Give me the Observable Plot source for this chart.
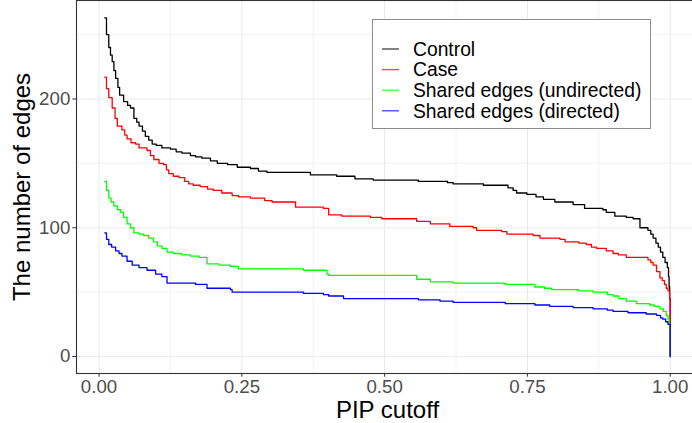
<!DOCTYPE html>
<html>
<head>
<meta charset="utf-8">
<script src="https://cdn.jsdelivr.net/npm/d3@7"></script>
<script src="https://cdn.jsdelivr.net/npm/@observablehq/plot@0.6"></script>
<style>
  html, body { margin: 0; padding: 0; background: #fff; }
  body { width: 692px; height: 423px; overflow: hidden; position: relative; font-family: "Liberation Sans", Arial, sans-serif; }
  #legend { position: absolute; left: 372px; top: 19px; }
</style>
</head>
<body>
<div id="chart"></div>
<svg id="legend" width="280" height="111"></svg>
<script>
// ---- data ----
const seriesNames = ["Control", "Case", "Shared edges (undirected)", "Shared edges (directed)"];
const seriesColors = ["#000000", "#FF0000", "#00FF00", "#0000FF"];

const controlPip = [0.010,0.013,0.017,0.020,0.023,0.026,0.029,0.033,0.036,0.043,0.050,0.055,0.061,0.066,0.070,0.076,0.081,0.087,0.093,0.100,0.110,0.125,0.135,0.145,0.160,0.169,0.180,0.195,0.207,0.225,0.242,0.265,0.279,0.294,0.370,0.416,0.448,0.480,0.559,0.610,0.620,0.673,0.716,0.725,0.731,0.749,0.765,0.778,0.798,0.830,0.850,0.882,0.888,0.903,0.923,0.935,0.947,0.961,0.966,0.970,0.975,0.979,0.983,0.987,0.991,0.995,0.997,0.998,0.999,1.000];
const controlEdges = [263,250,240,234,229,222,216,209,203,198,195,193,185,182,179,175,171,168,165,164,162,161,159,158,156,155,154,152,150,149,147,146,144,143,141,140,138,137,136,135,134,133,131,129,127,126,124,122,120,118,115,114,112,109,108,107,100,98,95,92,88,85,81,77,73,69,62,54,45,0];

const casePip = [0.010,0.013,0.017,0.023,0.028,0.032,0.040,0.045,0.049,0.056,0.064,0.070,0.084,0.090,0.096,0.105,0.113,0.118,0.122,0.130,0.140,0.150,0.157,0.165,0.177,0.190,0.200,0.215,0.233,0.244,0.265,0.290,0.303,0.344,0.393,0.402,0.425,0.475,0.495,0.556,0.580,0.614,0.655,0.661,0.705,0.714,0.760,0.772,0.807,0.816,0.840,0.853,0.862,0.871,0.888,0.900,0.909,0.923,0.961,0.966,0.970,0.976,0.982,0.986,0.990,0.993,0.996,0.999,1.000];
const caseEdges = [217,208,201,193,185,179,176,172,169,166,165,162,160,156,153,150,149,145,142,140,139,136,134,133,132,130,129,127,125,124,123,121,120,116,115,110,109,108,107,105,103,101,100,98,97,95,94,92,91,89,88,87,85,84,82,80,79,77,75,73,71,66,61,59,56,53,51,45,0];

const undirectedPip = [0.010,0.013,0.017,0.021,0.026,0.032,0.038,0.043,0.049,0.055,0.061,0.070,0.078,0.087,0.095,0.102,0.110,0.119,0.130,0.145,0.160,0.175,0.189,0.210,0.230,0.244,0.358,0.399,0.402,0.556,0.580,0.620,0.711,0.763,0.780,0.792,0.839,0.865,0.890,0.900,0.910,0.923,0.941,0.964,0.972,0.982,0.988,0.993,0.996,0.998,1.000];
const undirectedEdges = [136,129,123,120,117,114,112,108,103,100,96,95,94,92,89,86,84,81,80,79,78,77,72,71,70,68,67,64,63,60,58,57,56,54,53,52,51,50,48,47,45,43,41,40,39,37,35,32,29,25,0];

const directedPip = [0.010,0.013,0.017,0.022,0.029,0.035,0.040,0.049,0.058,0.070,0.084,0.099,0.110,0.119,0.169,0.189,0.230,0.233,0.358,0.393,0.402,0.428,0.559,0.597,0.620,0.711,0.763,0.789,0.830,0.865,0.890,0.900,0.926,0.958,0.976,0.983,0.987,0.992,0.996,1.000];
const directedEdges = [96,91,87,85,82,80,78,74,71,69,67,64,62,57,56,53,52,50,49,48,47,45,44,43,42,41,40,39,38,37,36,35,34,33,32,30,29,27,25,0];

const xTicks = [0, 0.25, 0.5, 0.75, 1];
const xTickLabels = ["0.00", "0.25", "0.50", "0.75", "1.00"];
const xMinor = [0.125, 0.375, 0.625, 0.875];
const yTicks = [0, 100, 200];
const yMinor = [50, 150, 250];

// ---- build table ----
const pipArrays = [controlPip, casePip, undirectedPip, directedPip];
const edgeArrays = [controlEdges, caseEdges, undirectedEdges, directedEdges];
const rows = [];
seriesNames.forEach((name, i) => {
  pipArrays[i].forEach((p, j) => rows.push({series: name, pip: p, edges: edgeArrays[i][j]}));
});

const font = '"Liberation Sans", Arial, sans-serif';
const gridCol = "#EBEBEB";

const chart = Plot.plot({
  width: 692,
  height: 423,
  marginLeft: 76,
  marginRight: -6,
  marginTop: 0,
  marginBottom: 50,
  style: {fontFamily: font, background: "#fff", overflow: "hidden"},
  x: {domain: [-0.0395, 1.0495]},
  y: {domain: [-13.2, 276.5]},
  color: {domain: seriesNames, range: seriesColors},
  marks: [
    Plot.gridX(xMinor, {stroke: gridCol, strokeOpacity: 1, strokeWidth: 0.6}),
    Plot.gridY(yMinor, {stroke: gridCol, strokeOpacity: 1, strokeWidth: 0.6}),
    Plot.gridX(xTicks, {stroke: gridCol, strokeOpacity: 1, strokeWidth: 1.1}),
    Plot.gridY(yTicks, {stroke: gridCol, strokeOpacity: 1, strokeWidth: 1.1}),
    Plot.line(rows, {x: "pip", y: "edges", z: "series", stroke: "series", curve: "step-after", strokeWidth: 1.3}),
    Plot.frame({stroke: "#333333", strokeWidth: 1.1}),
    Plot.axisX(xTicks, {tickSize: 3.7, tickPadding: 2.5, stroke: "#333333", fill: "#4D4D4D", fontSize: 18.7,
      tickFormat: (d) => xTickLabels[xTicks.indexOf(d)], label: null}),
    Plot.axisY(yTicks, {tickSize: 3.7, tickPadding: 2.5, stroke: "#333333", fill: "#4D4D4D", fontSize: 18.7, label: null}),
    Plot.text(["PIP cutoff"], {frameAnchor: "bottom", textAnchor: "middle", dy: 44, lineAnchor: "bottom", fontSize: 24, fill: "#000"}),
    Plot.text(["The number of edges"], {frameAnchor: "left", textAnchor: "middle", dx: -47, rotate: -90, lineAnchor: "bottom", fontSize: 24, fill: "#000"})
  ]
});
document.getElementById("chart").appendChild(chart);

// ---- legend (overlay inside the panel, as in the reference) ----
const leg = d3.select("#legend");
leg.append("rect").attr("x", 0.5).attr("y", 0.5).attr("width", 278).attr("height", 109)
  .attr("fill", "#fff").attr("stroke", "#8C8C8C").attr("stroke-width", 1);
seriesNames.forEach((name, i) => {
  const cy = 30 + i * 20.6;
  leg.append("line").attr("x1", 10).attr("x2", 27).attr("y1", cy).attr("y2", cy)
    .attr("stroke", seriesColors[i]).attr("stroke-width", 1.3).attr("stroke-opacity", 0.75);
  leg.append("text").attr("x", 41).attr("y", cy).attr("dy", "0.35em")
    .attr("font-family", font).attr("font-size", 19.3).attr("fill", "#000").text(name);
});
</script>
</body>
</html>
